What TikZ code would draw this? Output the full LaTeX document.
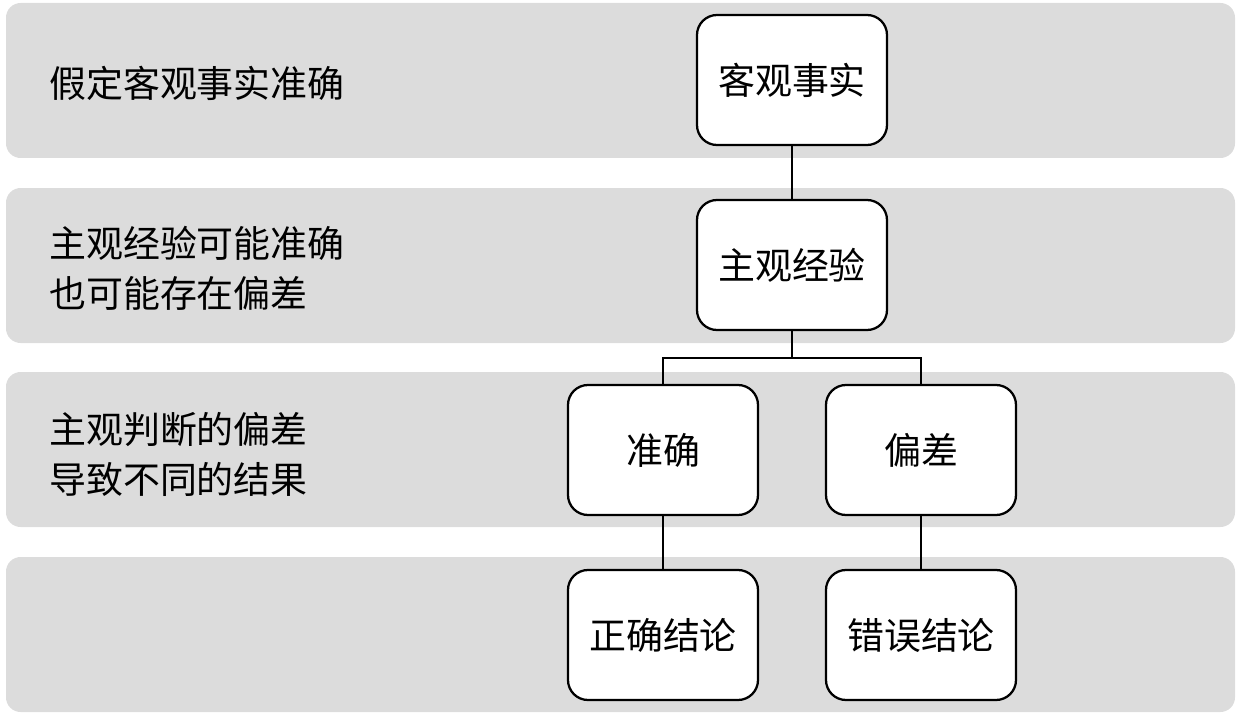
\documentclass[tikz,border=0pt]{standalone}
\usepackage{fontspec}
\setmainfont{Noto Sans CJK SC}
\usepackage{xcolor}
\usetikzlibrary{calc}
\definecolor{bandgray}{RGB}{220,220,220}
\newcommand{\cnfont}{\fontsize{27.7}{37.5}\selectfont}
\tikzset{
  band/.style={fill=bandgray, rounded corners=11pt},
  stepbox/.style={draw, line width=1.7pt, rounded corners=15pt, fill=white, minimum width=142.5pt, minimum height=97.5pt, inner sep=0pt, font=\cnfont},
  leftnote/.style={anchor=west, inner sep=0.75pt, align=left, font=\cnfont},
  link/.style={line width=1.7pt}
}

\begin{document}
\begin{tikzpicture}[x=0.75pt,y=0.75pt,yscale=-1,xscale=1]
  \useasboundingbox (0,0) rectangle (1240,717);

  %Rounded Rect bands
  \fill [band] (6,3) rectangle (1235,158);
  \fill [band] (6,188) rectangle (1235,343);
  \fill [band] (6,372) rectangle (1235,527);
  \fill [band] (6,557) rectangle (1235,712);

  % Text Node
  \draw (48,83) node [leftnote] (note1) {假定客观事实准确};
  % Text Node
  \draw (48,268) node [leftnote] (note2) {主观经验可能准确\\也可能存在偏差};
  % Text Node
  \draw (48,454) node [leftnote] (note3) {主观判断的偏差\\导致不同的结果};

  %Boxes
  \node [stepbox] (fact) at (792,80) {客观事实};
  \node [stepbox] (exper) at (792,265) {主观经验};
  \node [stepbox] (right) at (663,450) {准确};
  \node [stepbox] (bias) at (921,450) {偏差};
  \node [stepbox] (rightend) at (663,635) {正确结论};
  \node [stepbox] (wrongend) at (921,635) {错误结论};

  %Straight Lines
  \coordinate (split) at (792,358);
  \draw [link] (fact) -- (exper);
  \draw [link] (exper) -- (split);
  \draw [link] (right.north) |- (split) -| (bias.north);
  \draw [link] (right) -- (rightend);
  \draw [link] (bias) -- (wrongend);
\end{tikzpicture}
\end{document}
